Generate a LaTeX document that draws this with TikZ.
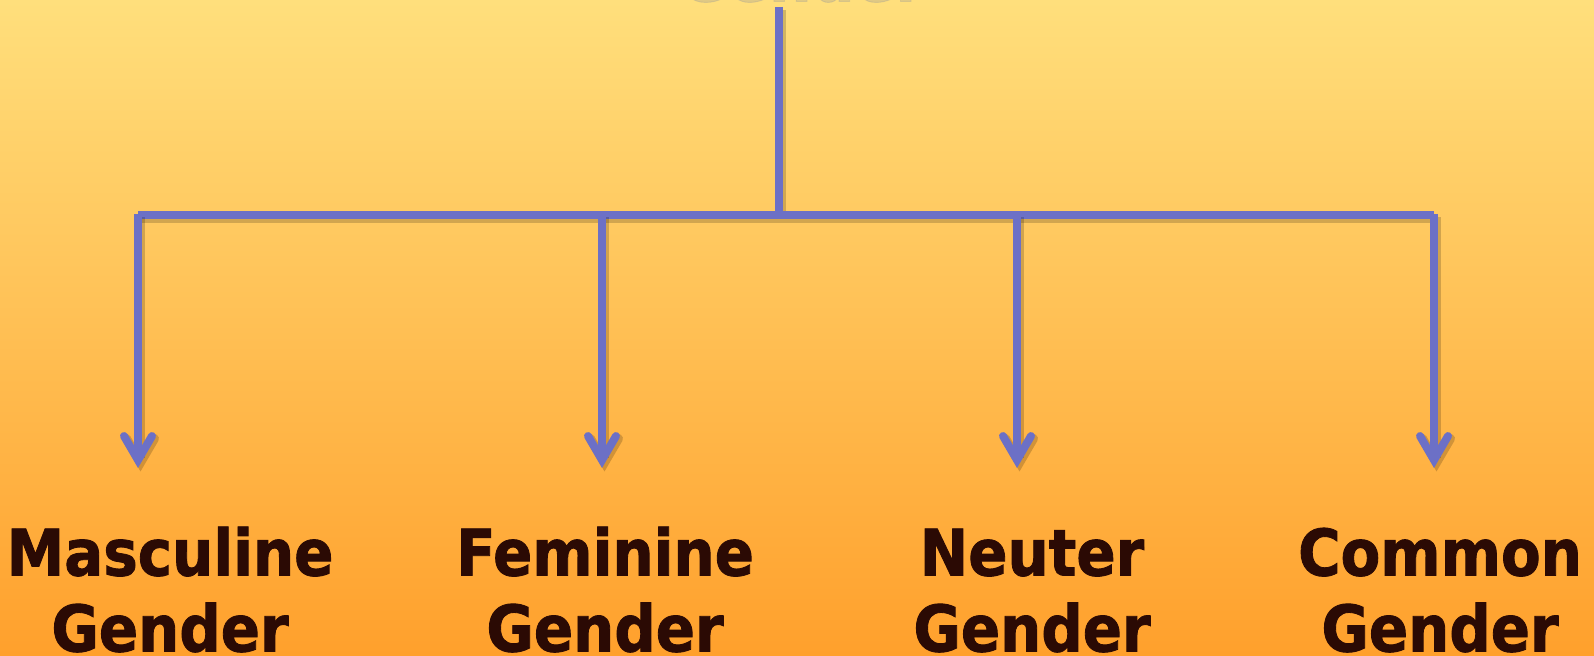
\documentclass[tikz,border=0pt]{standalone}
\usepackage{fontspec}
\setmainfont{DejaVu Sans Condensed}[BoldFeatures={FakeBold=1.3}]
\usetikzlibrary{arrows.meta}

\definecolor{LinkBlue}{RGB}{108,112,198}
\definecolor{LabelBrown}{RGB}{43,10,4}
\definecolor{SkyTop}{RGB}{255,223,124}
\definecolor{SkyBottom}{RGB}{255,160,44}

\tikzset{
  link/.style={draw=LinkBlue, line width=0.08cm,
    preaction={draw=black, opacity=0.18, line width=0.09cm,
      transform canvas={shift={(0.025cm,-0.035cm)}}}},
  branch/.style={link, -{Straight Barb[length=0.24cm, width=0.28cm, line cap=round]}},
  kind/.style={anchor=base, align=center, text=LabelBrown,
    font=\fontsize{18.3}{21.6}\selectfont\bfseries, inner sep=0pt}
}

\begin{document}
\begin{tikzpicture}
\useasboundingbox (0, 0) rectangle (15.94, 6.56);
\clip (0, 0) rectangle (15.94, 6.56);
\shade[top color=SkyTop, bottom color=SkyBottom] (0, 0) rectangle (15.94, 6.56);
\coordinate (RootFoot) at (7.79, 6.49);
\coordinate (Hub) at (7.79, 4.41);
\coordinate (BarL) at (1.38, 4.41);
\coordinate (BarR) at (14.34, 4.41);
\coordinate (MascTop) at (1.38, 4.42);
\coordinate (FemTop) at (6.02, 4.42);
\coordinate (NeutTop) at (10.17, 4.42);
\coordinate (CommTop) at (14.34, 4.42);
\coordinate (MascTip) at (1.38, 1.88);
\coordinate (FemTip) at (6.02, 1.88);
\coordinate (NeutTip) at (10.17, 1.88);
\coordinate (CommTip) at (14.34, 1.88);
\node (Root) [anchor=base, text=black!40, opacity=0.3,
  font=\fontsize{19}{22}\selectfont\bfseries] at (8.02, 6.545) {Gender};
    \node (Masc) [kind] at (1.70, 0.045) {Masculine\\Gender};
    \node (Fem) [kind] at (6.05, 0.045) {Feminine\\Gender};
    \node (Neut) [kind] at (10.32, 0.045) {Neuter\\Gender};
    \node (Comm) [kind] at (14.40, 0.045) {Common\\Gender};
\draw[link] (RootFoot) -- (Hub);
\draw[link] (BarL) -- (BarR);
    \draw[branch] (MascTop) -- (MascTip);
    \draw[branch] (FemTop) -- (FemTip);
    \draw[branch] (NeutTop) -- (NeutTip);
    \draw[branch] (CommTop) -- (CommTip);
\end{tikzpicture}
\end{document}
